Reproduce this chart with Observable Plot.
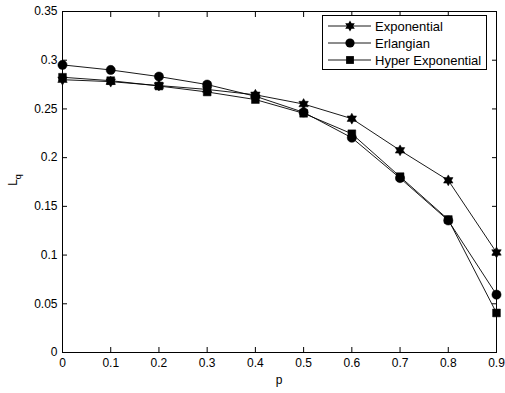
<!DOCTYPE html>
<html>
<head>
<meta charset="utf-8">
<script src="https://cdn.jsdelivr.net/npm/d3@7"></script>
<script src="https://cdn.jsdelivr.net/npm/@observablehq/plot@0.6"></script>
<style>
  html, body { margin: 0; padding: 0; background: #fff; }
  #wrap { position: relative; width: 505px; height: 393px; font-family: "Liberation Sans", Arial, sans-serif; }
  #legend { position: absolute; left: 322px; top: 15px; }
</style>
</head>
<body>
<div id="wrap"></div>
<script>
const pValues = [0, 0.1, 0.2, 0.3, 0.4, 0.5, 0.6, 0.7, 0.8, 0.9];
const exponential = [0.280, 0.278, 0.274, 0.270, 0.2645, 0.255, 0.240, 0.2075, 0.1767, 0.1027];
const erlangian = [0.2952, 0.290, 0.2832, 0.275, 0.263, 0.2465, 0.2204, 0.179, 0.1355, 0.0594];
const hyperExponential = [0.2825, 0.279, 0.2735, 0.2674, 0.2596, 0.2455, 0.2245, 0.1805, 0.1365, 0.0406];
const seriesNames = ["Exponential", "Erlangian", "Hyper Exponential"];
const xTicks = [0, 0.1, 0.2, 0.3, 0.4, 0.5, 0.6, 0.7, 0.8, 0.9];
const yTicks = [0, 0.05, 0.1, 0.15, 0.2, 0.25, 0.3, 0.35];

// six-pointed star (hexagram) symbol
const hexagram = {
  draw(context, size) {
    const R = Math.sqrt(size / Math.PI) * 1.3;
    const r = R / Math.sqrt(3);
    for (let i = 0; i < 12; i++) {
      const a = Math.PI / 2 + i * Math.PI / 6;
      const rad = i % 2 === 0 ? R : r;
      const x = rad * Math.cos(a), y = -rad * Math.sin(a);
      if (i === 0) context.moveTo(x, y); else context.lineTo(x, y);
    }
    context.closePath();
  }
};
const symbols = {"Exponential": hexagram, "Erlangian": "circle", "Hyper Exponential": "square"};
const radii = {"Exponential": 4.2, "Erlangian": 4.6, "Hyper Exponential": 4.4};

const seriesValues = [exponential, erlangian, hyperExponential];
const data = [];
seriesNames.forEach((name, s) => pValues.forEach((p, i) => data.push({series: name, p, v: seriesValues[s][i]})));

const font = "Liberation Sans, Arial, sans-serif";
const marks = [
  Plot.frame({stroke: "black", strokeWidth: 1}),
  Plot.axisX({anchor: "bottom", ticks: xTicks, tickSize: -5, tickPadding: 11, tickFormat: d => String(+d.toFixed(2)), label: null, fontSize: 12}),
  Plot.axisX({anchor: "top", ticks: xTicks, tickSize: -5, tickFormat: () => "", label: null}),
  Plot.axisY({anchor: "left", ticks: yTicks, tickSize: -5, tickPadding: 10, tickFormat: d => String(+d.toFixed(2)), label: null, fontSize: 12}),
  Plot.axisY({anchor: "right", ticks: yTicks, tickSize: -5, tickFormat: () => "", label: null})
];
seriesNames.forEach(name => {
  const d = data.filter(r => r.series === name);
  marks.push(Plot.line(d, {x: "p", y: "v", stroke: "black", strokeWidth: 0.9}));
  marks.push(Plot.dot(d, {x: "p", y: "v", symbol: () => symbols[name], r: radii[name], fill: "black", stroke: "black", strokeWidth: 0.5}));
});

const chart = Plot.plot({
  width: 505,
  height: 393,
  marginLeft: 62,
  marginRight: 9,
  marginTop: 11,
  marginBottom: 41,
  style: {fontFamily: font, fontSize: "12px", color: "black", background: "white"},
  x: {domain: [0, 0.9], label: null},
  y: {domain: [0, 0.35], label: null},
  symbol: {type: "identity"},
  marks
});
const wrap = document.getElementById("wrap");
wrap.appendChild(chart);

// axis titles
const svg = d3.select(chart);
svg.append("text").attr("x", 279).attr("y", 384).attr("text-anchor", "middle")
  .attr("font-size", 12).attr("font-family", font).text("p");
const yl = svg.append("text").attr("transform", "translate(17,180) rotate(-90)")
  .attr("text-anchor", "middle").attr("font-size", 12).attr("font-family", font);
yl.append("tspan").text("L");
yl.append("tspan").attr("font-size", 9).attr("dy", 4).text("q");

// legend
const lw = 165, lh = 55;
const leg = d3.select(wrap).append("svg").attr("id", "legend").attr("width", lw).attr("height", lh);
leg.append("rect").attr("x", 0.5).attr("y", 0.5).attr("width", lw - 1).attr("height", lh - 1)
  .attr("fill", "white").attr("stroke", "black");
seriesNames.forEach((name, i) => {
  const cy = 11 + i * 17;
  leg.append("line").attr("x1", 6).attr("x2", 49).attr("y1", cy).attr("y2", cy).attr("stroke", "black").attr("stroke-width", 0.9);
  const sym = symbols[name];
  const type = sym === "circle" ? d3.symbolCircle : sym === "square" ? d3.symbolSquare : sym;
  const r = radii[name];
  leg.append("path").attr("transform", `translate(28,${cy})`)
    .attr("d", d3.symbol(type, Math.PI * r * r)()).attr("fill", "black");
  leg.append("text").attr("x", 53).attr("y", cy + 4.5).attr("font-size", 13).attr("font-family", font).text(name);
});
</script>
</body>
</html>
